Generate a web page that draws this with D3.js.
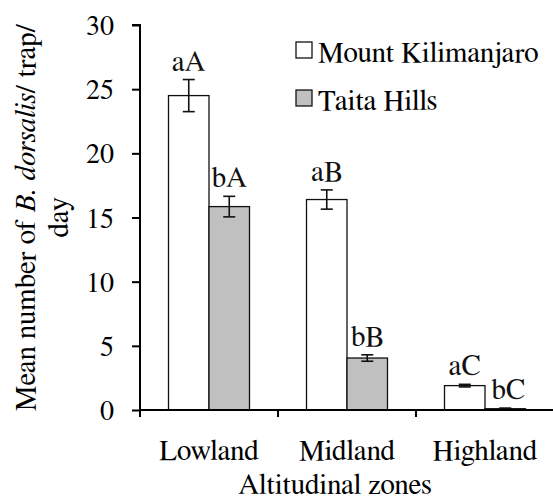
<!DOCTYPE html>
<html><head><meta charset="utf-8"><script src="https://cdn.jsdelivr.net/npm/d3@7"></script></head>
<body style="margin:0">
<script>
const zones = ["Lowland", "Midland", "Highland"];
const series = ["Mount Kilimanjaro", "Taita Hills"];
const seriesColors = ["#ffffff", "#c0c0c0"];
const kiliMeans = [24.5, 16.4, 1.9];
const kiliErrors = [1.25, 0.75, 0.1];
const taitaMeans = [15.85, 4.05, 0.1];
const taitaErrors = [0.8, 0.25, 0.05];
const kiliLetters = ["aA", "aB", "aC"];
const taitaLetters = ["bA", "bB", "bC"];
const yTicks = [0, 5, 10, 15, 20, 25, 30];

const FONT = '"Nimbus Roman", FreeSerif, "Liberation Serif", Tinos, serif';
const width = 553, height = 498;
const margin = { top: 25, right: -1, bottom: 88, left: 140 };
const innerW = width - margin.left - margin.right;
const innerH = height - margin.top - margin.bottom;

const svg = d3.select("body").append("svg")
    .attr("width", width)
    .attr("height", height);

const g = svg.append("g")
    .attr("transform", `translate(${margin.left},${margin.top})`);

// Scales
const x0 = d3.scaleBand().domain(zones).range([0, innerW]).padding(0);
const x1 = d3.scaleBand().domain(series).range([0, x0.bandwidth()])
    .paddingInner(0).paddingOuter(0.704);
const y = d3.scaleLinear().domain([0, 30]).range([innerH, 0]);

// Build rows from the arrays
const rows = [];
zones.forEach((z, i) => {
    rows.push({ zone: z, s: series[0], mean: kiliMeans[i], err: kiliErrors[i], letter: kiliLetters[i], color: seriesColors[0] });
    rows.push({ zone: z, s: series[1], mean: taitaMeans[i], err: taitaErrors[i], letter: taitaLetters[i], color: seriesColors[1] });
});
const cx = d => x0(d.zone) + x1(d.s) + x1.bandwidth() / 2;

// Bars
g.selectAll(".bar")
    .data(rows)
    .enter()
    .append("rect")
    .attr("x", d => x0(d.zone) + x1(d.s))
    .attr("y", d => y(d.mean))
    .attr("width", x1.bandwidth())
    .attr("height", d => y(0) - y(d.mean))
    .attr("fill", d => d.color)
    .attr("stroke", "#111")
    .attr("stroke-width", 1.3);

// Error bars
const cap = 6;
const eb = g.selectAll(".err")
    .data(rows)
    .enter()
    .append("g")
    .attr("stroke", "#111")
    .attr("stroke-width", 1.6);
eb.append("line")
    .attr("x1", cx).attr("x2", cx)
    .attr("y1", d => y(d.mean + d.err))
    .attr("y2", d => y(Math.max(0, d.mean - d.err)));
eb.append("line")
    .attr("x1", d => cx(d) - cap).attr("x2", d => cx(d) + cap)
    .attr("y1", d => y(d.mean + d.err))
    .attr("y2", d => y(d.mean + d.err));
eb.append("line")
    .attr("x1", d => cx(d) - cap).attr("x2", d => cx(d) + cap)
    .attr("y1", d => y(Math.max(0, d.mean - d.err)))
    .attr("y2", d => y(Math.max(0, d.mean - d.err)));

// Letter labels
g.selectAll(".letter")
    .data(rows)
    .enter()
    .append("text")
    .attr("x", d => cx(d) + (d.mean < 1 ? 3 : 0))
    .attr("y", d => y(d.mean + d.err) - 9)
    .attr("text-anchor", "middle")
    .attr("font-size", 29)
    .attr("fill", "#111")
    .text(d => d.letter);

// Y axis
const yAxis = g.append("g")
    .call(d3.axisLeft(y).tickValues(yTicks).tickSize(8).tickPadding(18));
yAxis.select(".domain").attr("stroke", "#000").attr("stroke-width", 2)
    .attr("d", `M-8,${y(30)}H0V${y(0) + 7}`);
yAxis.selectAll(".tick line").attr("stroke", "#000").attr("stroke-width", 2);
yAxis.selectAll("text")
    .attr("font-size", 28)
    .attr("fill", "#000")
    .attr("dy", "0.34em");

// X axis
const xAxis = g.append("g")
    .attr("transform", `translate(0,${innerH})`)
    .call(d3.axisBottom(x0).tickSize(0).tickPadding(29));
xAxis.select(".domain").attr("stroke", "#000").attr("stroke-width", 2)
    .attr("d", `M0,0H${innerW}`);
xAxis.selectAll("text")
    .attr("font-size", 29)
    .attr("fill", "#000")
    .attr("dy", "0.72em");
g.selectAll(".xtick")
    .data(zones.slice(1))
    .enter()
    .append("line")
    .attr("x1", d => x0(d))
    .attr("x2", d => x0(d))
    .attr("y1", innerH)
    .attr("y2", innerH + 7)
    .attr("stroke", "#000")
    .attr("stroke-width", 2);

// X axis title
svg.append("text")
    .attr("x", 335)
    .attr("y", 494)
    .attr("text-anchor", "middle")
    .attr("font-size", 29)
    .text("Altitudinal zones");

// Y axis title (two lines)
const yTitle = svg.append("text")
    .attr("transform", `translate(35,${margin.top + innerH / 2}) rotate(-90)`)
    .attr("text-anchor", "middle")
    .attr("font-size", 29);
yTitle.append("tspan").text("Mean number of ");
yTitle.append("tspan").attr("font-style", "italic").text("B. dorsalis");
yTitle.append("tspan").text("/ trap/");
svg.append("text")
    .attr("transform", `translate(68,${margin.top + innerH / 2}) rotate(-90)`)
    .attr("text-anchor", "middle")
    .attr("font-size", 29)
    .text("day");

// Legend
const legend = svg.append("g").attr("transform", "translate(296,42)");
series.forEach((s, i) => {
    const row = legend.append("g").attr("transform", `translate(0,${i * 48})`);
    row.append("rect")
        .attr("width", 16)
        .attr("height", 16)
        .attr("fill", seriesColors[i])
        .attr("stroke", "#111")
        .attr("stroke-width", 1.3);
    row.append("text")
        .attr("x", 22)
        .attr("y", 20)
        .attr("font-size", 29)
        .text(s);
});

// one serif stack for every label
svg.selectAll("g").attr("font-family", null);
svg.selectAll("text").attr("font-family", FONT);
</script>
</body>
</html>
